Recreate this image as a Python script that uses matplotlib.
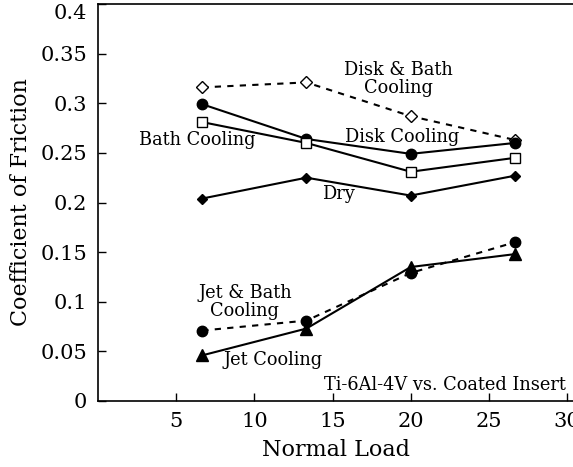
import matplotlib
matplotlib.use("Agg")
import matplotlib.pyplot as plt

# normal load positions
load = [6.67, 13.33, 20.0, 26.67]

# coefficient of friction
disk_bath = [0.316, 0.321, 0.287, 0.263]
disk = [0.299, 0.264, 0.249, 0.260]
bath = [0.281, 0.260, 0.231, 0.245]
dry = [0.204, 0.225, 0.207, 0.227]
jet_bath = [0.071, 0.081, 0.129, 0.160]
jet = [0.046, 0.073, 0.135, 0.148]

plt.rcParams['font.family'] = ['DejaVu Serif']

fig = plt.figure(figsize=(5.73, 4.67), dpi=100)
ax = fig.add_axes([98 / 573, 66 / 467, 475 / 573, 397 / 467])

lw = 1.5
ax.plot(load, disk_bath, color='black', lw=lw, dashes=(3, 3), marker='D',
        markersize=6, markerfacecolor='white', markeredgewidth=1.0)
ax.plot(load, disk, color='black', lw=lw, marker='o', markersize=7.5)
ax.plot(load, bath, color='black', lw=lw, marker='s', markersize=6.5,
        markerfacecolor='white', markeredgewidth=1.0)
ax.plot(load, dry, color='black', lw=lw, marker='D', markersize=5.5)
ax.plot(load, jet_bath, color='black', lw=lw, dashes=(3, 3), marker='o', markersize=7.5)
ax.plot(load, jet, color='black', lw=lw, marker='^', markersize=8)

fs = 12.8
ax.text(19.2, 0.324, 'Disk & Bath\nCooling', ha='center', va='center', fontsize=fs,
        multialignment='center', linespacing=1.0)
ax.text(10.06, 0.2625, 'Bath Cooling', ha='right', va='center', fontsize=fs)
ax.text(15.8, 0.2655, 'Disk Cooling', ha='left', va='center', fontsize=fs)
ax.text(14.3, 0.2085, 'Dry', ha='left', va='center', fontsize=fs)
ax.text(9.39, 0.0995, 'Jet & Bath\nCooling', ha='center', va='center', fontsize=fs,
        multialignment='center', linespacing=1.0)
ax.text(8.0, 0.0415, 'Jet Cooling', ha='left', va='center', fontsize=fs)
ax.text(29.9, 0.0165, 'Ti-6Al-4V vs. Coated Insert', ha='right', va='center', fontsize=fs)

ax.set_xlim(0, 30.38)
ax.set_ylim(0, 0.4)
ax.set_xticks([5, 10, 15, 20, 25, 30])
ax.set_yticks([0, 0.05, 0.1, 0.15, 0.2, 0.25, 0.3, 0.35, 0.4])
ax.set_yticklabels(['0', '0.05', '0.1', '0.15', '0.2', '0.25', '0.3', '0.35', '0.4'])
ax.tick_params(direction='in', length=6, width=1, labelsize=15, pad=8)
# top label sits a little lower in the original
ax.get_yticklabels()[-1].set_va('top')
ax.spines['right'].set_visible(False)
for s in ['left', 'bottom', 'top']:
    ax.spines[s].set_linewidth(1.2)

ax.set_xlabel('Normal Load', fontsize=16, labelpad=6)
ax.set_ylabel('Coefficient of Friction', fontsize=16, labelpad=6)

fig.savefig('out.png', dpi=100)
